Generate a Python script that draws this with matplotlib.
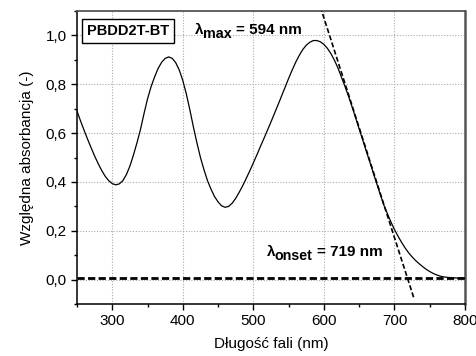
import matplotlib
matplotlib.use("Agg")
import matplotlib.pyplot as plt
from matplotlib.ticker import MultipleLocator, FuncFormatter

plt.rcParams['font.family'] = ['Liberation Sans', 'DejaVu Sans']

# Spectrum readings (wavelength nm, relative absorbance)
wavelength = list(range(250, 805, 5))
absorbance = [0.690, 0.650, 0.612, 0.575, 0.540, 0.506, 0.475, 0.447, 0.423, 0.405,
              0.393, 0.388, 0.392, 0.405, 0.430, 0.465, 0.510, 0.560, 0.615, 0.680,
              0.740, 0.790, 0.830, 0.865, 0.890, 0.906, 0.912, 0.906, 0.888, 0.858,
              0.815, 0.760, 0.695, 0.625, 0.560, 0.500, 0.450, 0.405, 0.370, 0.340,
              0.318, 0.302, 0.296, 0.300, 0.313, 0.333, 0.358, 0.385, 0.415, 0.446,
              0.478, 0.511, 0.545, 0.578, 0.612, 0.646, 0.681, 0.716, 0.752, 0.788,
              0.824, 0.858, 0.890, 0.918, 0.942, 0.960, 0.972, 0.979, 0.979, 0.974,
              0.963, 0.947, 0.925, 0.898, 0.866, 0.828, 0.790, 0.750, 0.707, 0.662,
              0.617, 0.572, 0.527, 0.482, 0.437, 0.392, 0.348, 0.305, 0.270, 0.236,
              0.205, 0.178, 0.153, 0.130, 0.110, 0.093, 0.078, 0.065, 0.053, 0.042,
              0.033, 0.025, 0.019, 0.014, 0.011, 0.009, 0.008, 0.007, 0.006, 0.006,
              0.006]

# Tangent (onset) line end points and baseline
tangent_x = [595, 728]
tangent_y = [1.117, -0.080]
baseline_x = [250, 800]
baseline_y = [0.008, 0.008]

label_sample = "PBDD2T-BT"
lam = "λ"
sub_max = "max"
rest_max = "= 594 nm"
sub_onset = "onset"
rest_onset = "= 719 nm"

W, H = 477, 356
fig = plt.figure(figsize=(W / 100, H / 100), dpi=100)
ax = fig.add_axes([77 / W, 1 - 304 / H, (465 - 77) / W, (304 - 11) / H])

ax.set_xlim(250, 800)
ax.set_ylim(-0.1, 1.1)
ax.xaxis.set_major_locator(MultipleLocator(100))
ax.xaxis.set_minor_locator(MultipleLocator(50))
ax.yaxis.set_major_locator(MultipleLocator(0.2))
ax.yaxis.set_minor_locator(MultipleLocator(0.1))
ax.yaxis.set_major_formatter(FuncFormatter(
    lambda v, p: f"{v:.1f}".replace('.', ',').replace('-0,0', '0,0')))

ax.grid(True, which='major', color='#aaaaaa', linestyle=(0, (1, 1.5)), linewidth=0.8)
ax.set_axisbelow(True)

ax.plot(wavelength, absorbance, color='black', linewidth=0.9, zorder=3)
ax.plot(baseline_x, baseline_y, color='black', linewidth=2.0, linestyle=(0, (2.6, 1.2)), zorder=4)
ax.plot(tangent_x, tangent_y, color='black', linewidth=1.2, linestyle=(0, (3, 1.5)), zorder=4)

ax.tick_params(axis='both', which='major', direction='out', length=4.5, width=1,
               labelsize=11, colors='black', pad=3)
ax.tick_params(axis='both', which='minor', direction='out', length=2.5, width=1)
ax.tick_params(top=False, right=False, which='both')

for s in ['left', 'bottom']:
    ax.spines[s].set_linewidth(1.1)
    ax.spines[s].set_color('black')
ax.spines['top'].set_color('#555555')
ax.spines['top'].set_linewidth(1.3)
ax.spines['right'].set_color('#555555')
ax.spines['right'].set_linewidth(1.8)

ax.set_xlabel("Długość fali (nm)", fontsize=11, labelpad=6)
ax.set_ylabel("Względna absorbancja (-)", fontsize=11, labelpad=8)

ax.text(0.025, 0.955, label_sample, transform=ax.transAxes, fontsize=10.5, fontweight='bold',
        va='top', ha='left',
        bbox=dict(boxstyle='square,pad=0.35', facecolor='white', edgecolor='black', linewidth=1))


def px(x, y):
    return x / W, 1 - y / H


def lam_label(x0, x_sub, x_rest, y_base, sub, rest):
    fig.text(*px(x0, y_base), lam, fontsize=11, fontweight='bold', va='baseline', ha='left')
    fig.text(*px(x_sub, y_base + 4), sub, fontsize=10.3, fontweight='bold', va='baseline', ha='left')
    fig.text(*px(x_rest, y_base), rest, fontsize=11, fontweight='bold', va='baseline', ha='left')


lam_label(195, 203.5, 236.5, 34, sub_max, rest_max)
lam_label(267, 275, 317.5, 256, sub_onset, rest_onset)

fig.savefig("out.png", dpi=100)
